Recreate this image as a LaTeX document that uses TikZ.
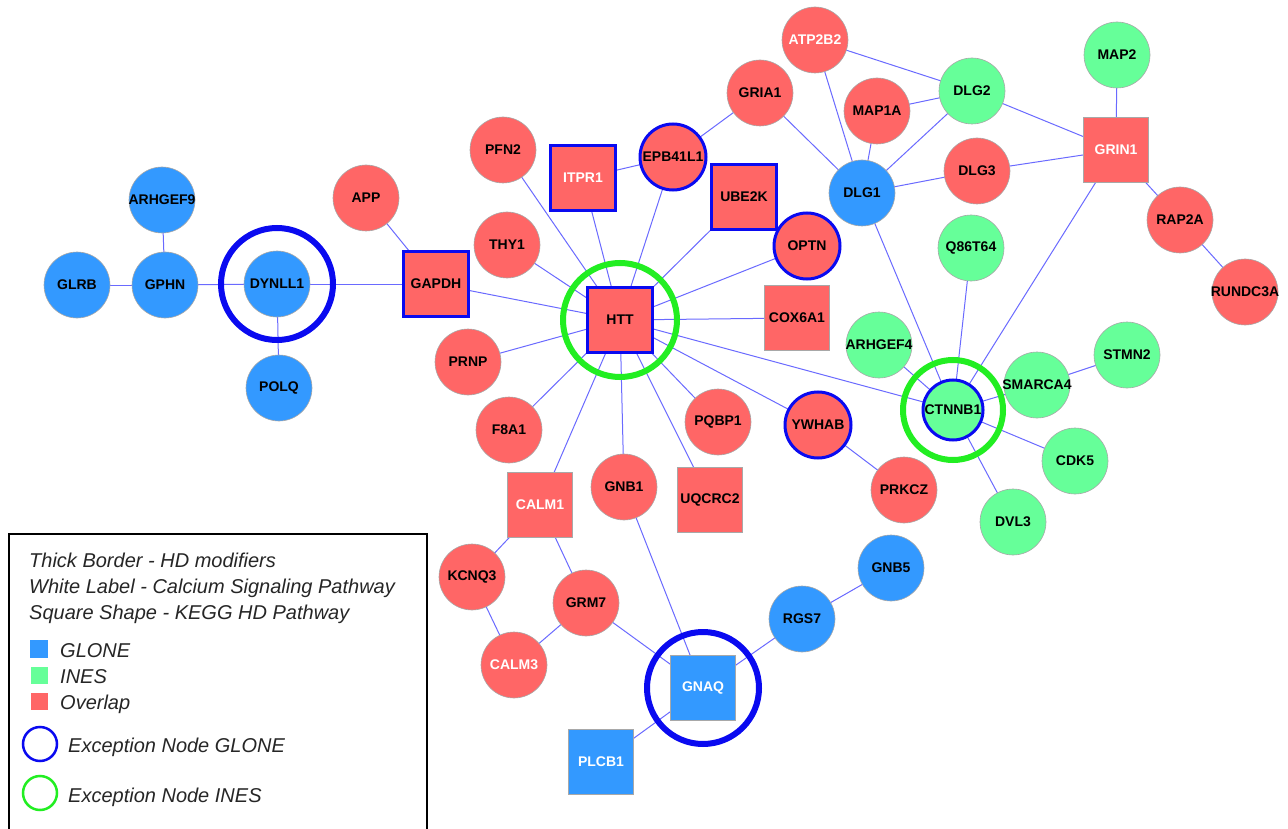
\documentclass[tikz,border=0pt]{standalone}
\usepackage{fontspec}
\setmainfont{Liberation Sans}
\usetikzlibrary{backgrounds}
\definecolor{glone}{HTML}{3399FF}
\definecolor{ines}{HTML}{66FF99}
\definecolor{ovl}{HTML}{FF6666}
\definecolor{hdblue}{HTML}{0A0AF0}
\definecolor{ringgreen}{HTML}{22EE22}
\definecolor{edgeblue}{HTML}{6A6AFF}
\definecolor{outl}{HTML}{A8A8A8}
\tikzset{
  nd/.style={inner sep=0pt, draw=outl, line width=0.6pt,
    font=\bfseries\fontsize{14}{14}\selectfont, text=black},
  cir/.style={nd, circle, minimum size=66pt},
  sq/.style={nd, rectangle, minimum size=65pt},
  gb/.style={fill=glone}, gi/.style={fill=ines}, go/.style={fill=ovl},
  hd/.style={draw=hdblue, line width=3pt},
  wl/.style={text=white},
  ringG/.style={circle, draw=hdblue, line width=6pt, fill=none, inner sep=0pt},
  ringI/.style={circle, draw=ringgreen, line width=6pt, fill=none, inner sep=0pt},
  edge/.style={draw=edgeblue, line width=1pt},
  legtext/.style={anchor=base west, inner sep=0pt, font=\itshape\fontsize{20}{26}\selectfont, text=black!85},
}
\newcommand{\gn}[5]{\node[#4] (#1) at (#2,#3) {\makebox[0pt]{#5}};}
\begin{document}
\begin{tikzpicture}[x=1pt,y=-1pt]
\useasboundingbox (0,0) rectangle (1288,829);
% nodes
\gn{ARHGEF9}{162}{200}{cir,gb}{ARHGEF9}
\gn{GLRB}{77}{285}{cir,gb}{GLRB}
\gn{GPHN}{165}{285}{cir,gb}{GPHN}
\gn{DYNLL1}{277}{284}{cir,gb}{DYNLL1}
\gn{POLQ}{279}{388}{cir,gb}{POLQ}
\gn{APP}{366}{198}{cir,go}{APP}
\gn{GAPDH}{436}{284}{sq,go,hd}{GAPDH}
\gn{PFN2}{503}{150}{cir,go}{PFN2}
\gn{ITPR1}{583}{178}{sq,go,hd,wl}{ITPR1}
\gn{EPB41L1}{673}{157}{cir,go,hd}{EPB41L1}
\gn{GRIA1}{760}{93}{cir,go}{GRIA1}
\gn{ATP2B2}{815}{40}{cir,go,wl}{ATP2B2}
\gn{MAP1A}{877}{111}{cir,go}{MAP1A}
\gn{DLG2}{972}{91}{cir,gi}{DLG2}
\gn{MAP2}{1117}{55}{cir,gi}{MAP2}
\gn{GRIN1}{1116}{150}{sq,go,wl}{GRIN1}
\gn{DLG1}{862}{193}{cir,gb}{DLG1}
\gn{DLG3}{977}{171}{cir,go}{DLG3}
\gn{RAP2A}{1180}{220}{cir,go}{RAP2A}
\gn{RUNDC3A}{1245}{292}{cir,go}{RUNDC3A}
\gn{UBE2K}{744}{197}{sq,go,hd}{UBE2K}
\gn{OPTN}{807}{246}{cir,go,hd}{OPTN}
\gn{THY1}{507}{245}{cir,go}{THY1}
\gn{HTT}{620}{320}{sq,go,hd}{HTT}
\gn{COX6A1}{797}{318}{sq,go}{COX6A1}
\gn{Q86T64}{971}{248}{cir,gi}{Q86T64}
\gn{ARHGEF4}{879}{345}{cir,gi}{ARHGEF4}
\gn{STMN2}{1127}{355}{cir,gi}{STMN2}
\gn{SMARCA4}{1037}{385}{cir,gi}{SMARCA4}
\gn{CTNNB1}{953}{410}{cir,gi,hd,minimum size=60pt}{CTNNB1}
\gn{CDK5}{1075}{461}{cir,gi}{CDK5}
\gn{DVL3}{1013}{522}{cir,gi}{DVL3}
\gn{PRKCZ}{904}{490}{cir,go}{PRKCZ}
\gn{YWHAB}{818}{425}{cir,go,hd}{YWHAB}
\gn{PQBP1}{718}{422}{cir,go}{PQBP1}
\gn{UQCRC2}{710}{500}{sq,go}{UQCRC2}
\gn{GNB1}{624}{487}{cir,go}{GNB1}
\gn{CALM1}{540}{505}{sq,go,wl}{CALM1}
\gn{F8A1}{509}{430}{cir,go}{F8A1}
\gn{PRNP}{468}{362}{cir,go}{PRNP}
\gn{KCNQ3}{472}{577}{cir,go}{KCNQ3}
\gn{GRM7}{586}{603}{cir,go}{GRM7}
\gn{CALM3}{514}{665}{cir,go,wl}{CALM3}
\gn{GNAQ}{703}{688}{sq,gb,wl}{GNAQ}
\gn{PLCB1}{601}{762}{sq,gb,wl}{PLCB1}
\gn{RGS7}{802}{619}{cir,gb}{RGS7}
\gn{GNB5}{891}{568}{cir,gb}{GNB5}
% exception rings
\node[ringG, minimum size=112pt] (rDYNLL1) at (DYNLL1) {};
\node[ringG, minimum size=112pt] (rGNAQ) at (GNAQ) {};
\node[ringI, minimum size=114pt] (rHTT) at (HTT) {};
\node[ringI, minimum size=100pt] (rCTNNB1) at (CTNNB1) {};
% edges
\begin{scope}[on background layer]
\fill[white] (0,0) rectangle (1288,829);
\foreach \a/\b in {ARHGEF9/GPHN, GLRB/GPHN, GPHN/DYNLL1, DYNLL1/POLQ, DYNLL1/GAPDH,
  APP/GAPDH, GAPDH/HTT, PFN2/HTT, ITPR1/HTT, EPB41L1/HTT, THY1/HTT, UBE2K/HTT,
  OPTN/HTT, COX6A1/HTT, PRNP/HTT, F8A1/HTT, CALM1/HTT, GNB1/HTT, UQCRC2/HTT,
  PQBP1/HTT, YWHAB/HTT, HTT/CTNNB1, ITPR1/EPB41L1, EPB41L1/GRIA1, GRIA1/DLG1,
  ATP2B2/DLG1, ATP2B2/DLG2, MAP1A/DLG1, MAP1A/DLG2, DLG2/DLG1, DLG1/DLG3,
  DLG3/GRIN1, DLG2/GRIN1, MAP2/GRIN1, GRIN1/RAP2A, RAP2A/RUNDC3A, GRIN1/CTNNB1,
  DLG1/CTNNB1, Q86T64/CTNNB1, ARHGEF4/CTNNB1, SMARCA4/CTNNB1, SMARCA4/STMN2,
  CTNNB1/CDK5, CTNNB1/DVL3, YWHAB/PRKCZ, CALM1/KCNQ3, CALM1/GRM7, KCNQ3/CALM3,
  CALM3/GRM7, GRM7/GNAQ, GNB1/GNAQ, GNAQ/RGS7, RGS7/GNB5, GNAQ/PLCB1}
  \draw[edge] (\a.center) -- (\b.center);
\end{scope}
% legend
\node[draw=black, line width=2pt, fill=white, minimum width=418pt, minimum height=296pt, anchor=north west, inner sep=0pt] (legend) at (8,533) {};
\node[legtext] (l1) at (29,567) {Thick Border - HD modifiers};
\node[legtext] (l2) at (29,593) {White Label - Calcium Signaling Pathway};
\node[legtext] (l3) at (29,619) {Square Shape - KEGG HD Pathway};
\node[fill=glone, minimum size=18pt, inner sep=0pt] (sqG) at (39,649) {};
\node[fill=ines, minimum size=17pt, inner sep=0pt] (sqI) at (39,675) {};
\node[fill=ovl, minimum size=17pt, inner sep=0pt] (sqO) at (39,701) {};
\node[legtext] (tG) at (60,657) {GLONE};
\node[legtext] (tI) at (60,683) {INES};
\node[legtext] (tO) at (60,709) {Overlap};
\node[circle, draw=hdblue, line width=2.5pt, minimum size=34pt, inner sep=0pt] (cG) at (40,744) {};
\node[circle, draw=ringgreen, line width=2.5pt, minimum size=34pt, inner sep=0pt] (cI) at (40,793) {};
\node[legtext] (tcG) at (68,752) {Exception Node GLONE};
\node[legtext] (tcI) at (68,802) {Exception Node INES};
\end{tikzpicture}
\end{document}
